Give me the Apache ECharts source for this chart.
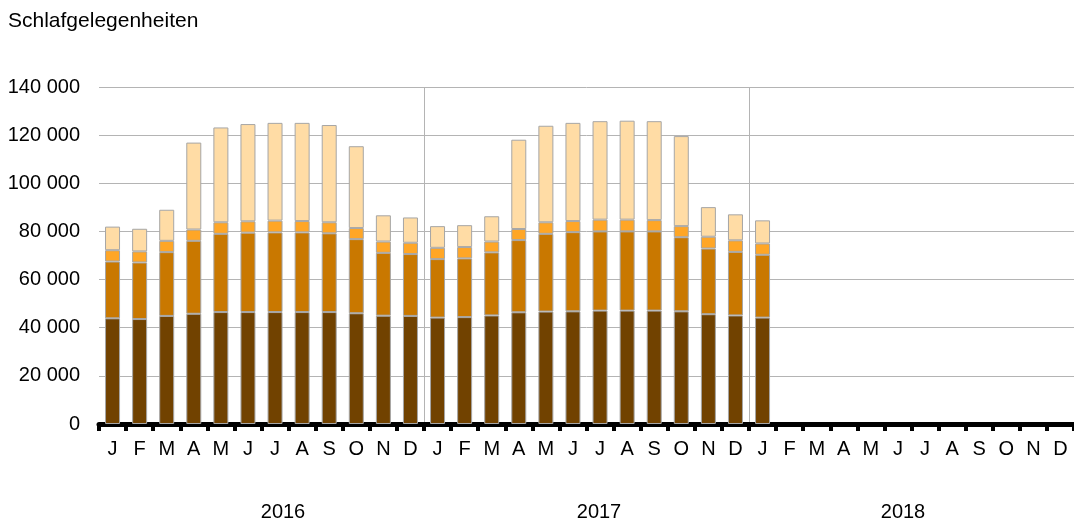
<!DOCTYPE html>
<html>
<head>
<meta charset="utf-8">
<script src="https://cdn.jsdelivr.net/npm/echarts@6/dist/echarts.min.js"></script>
<style>
    html, body { margin: 0; padding: 0; background: #fff; }
    #chart { width: 1074px; height: 523px; }
</style>
</head>
<body>
<div id="chart"></div>
<script>
const years = ['2016', '2017', '2018'];
const months = ['J', 'F', 'M', 'A', 'M', 'J', 'J', 'A', 'S', 'O', 'N', 'D'];

// stacked layers, bottom to top (Jan 2016 .. Jan 2018, rest empty)
const layer1 = [43900, 43600, 44900, 45800, 46500, 46500, 46500, 46500, 46500, 46000, 45000, 44900,
    44200, 44400, 45100, 46400, 46700, 46800, 47100, 47100, 47100, 46800, 45600, 45100,
    44200];
const layer2 = [23600, 23500, 26500, 30300, 32500, 33000, 33100, 33100, 32700, 30800, 26100, 25700,
    24300, 24400, 26200, 30000, 32300, 32900, 32900, 32900, 32900, 30800, 27300, 26400,
    26100];
const layer3 = [4700, 4600, 4700, 4700, 4800, 4700, 4900, 4700, 4600, 4600, 4700, 4700,
    4700, 4700, 4500, 4600, 4800, 4600, 4900, 4900, 4700, 4600, 4900, 4800,
    4700];
const layer4 = [9800, 9400, 12900, 36100, 39400, 40400, 40600, 40800, 40400, 34000, 10900, 10500,
    9000, 9100, 10500, 37100, 40100, 40800, 40900, 41100, 41100, 37400, 12300, 10800,
    9600];

const colors = ['#714200', '#c97800', '#ffa626', '#ffdca5'];
const font = 'Liberation Sans, Arial, sans-serif';

const categories = [];
years.forEach(function (y) {
    months.forEach(function (m) { categories.push(m); });
});

function pad(arr) {
    const out = arr.slice();
    while (out.length < categories.length) out.push(null);
    return out;
}

const layers = [layer1, layer2, layer3, layer4];
const series = layers.map(function (arr, i) {
    return {
        type: 'bar',
        stack: 'total',
        barWidth: 15,
        data: pad(arr),
        itemStyle: { color: colors[i], borderColor: '#a6a6a6', borderWidth: 1 }
    };
});

const chart = echarts.init(document.getElementById('chart'));
chart.setOption({
    animation: false,
    grid: { left: 99, right: 0, top: 87, bottom: 99 },
    xAxis: {
        type: 'category',
        data: categories,
        axisLine: { show: true, lineStyle: { color: '#000', width: 5 } },
        axisTick: { show: true, interval: 0, alignWithLabel: false, length: 7, lineStyle: { color: '#000', width: 4 } },
        axisLabel: { color: '#000', fontSize: 20, fontFamily: font, margin: 15, interval: 0 },
        splitLine: {
            show: true,
            interval: function (index) { return index > 0 && index % 12 === 0; },
            lineStyle: { color: '#b4b4b4', width: 1 }
        }
    },
    yAxis: {
        type: 'value',
        min: 0,
        max: 140000,
        interval: 20000,
        axisLine: { show: false },
        axisTick: { show: false },
        axisLabel: {
            color: '#000', fontSize: 20, fontFamily: font, margin: 19,
            formatter: function (v) { return String(v).replace(/\B(?=(\d{3})+(?!\d))/g, ' '); }
        },
        splitLine: { lineStyle: { color: '#b4b4b4', width: 1 } }
    },
    graphic: [
        { type: 'text', left: 8, top: 11, style: { text: 'Schlafgelegenheiten', fontSize: 21, fontFamily: font, fill: '#000' } },
        { type: 'text', x: 283, y: 512, style: { text: years[0], fontSize: 20, fontFamily: font, fill: '#000', align: 'center', verticalAlign: 'middle' } },
        { type: 'text', x: 599, y: 512, style: { text: years[1], fontSize: 20, fontFamily: font, fill: '#000', align: 'center', verticalAlign: 'middle' } },
        { type: 'text', x: 903, y: 512, style: { text: years[2], fontSize: 20, fontFamily: font, fill: '#000', align: 'center', verticalAlign: 'middle' } }
    ],
    series: series
});
</script>
</body>
</html>
